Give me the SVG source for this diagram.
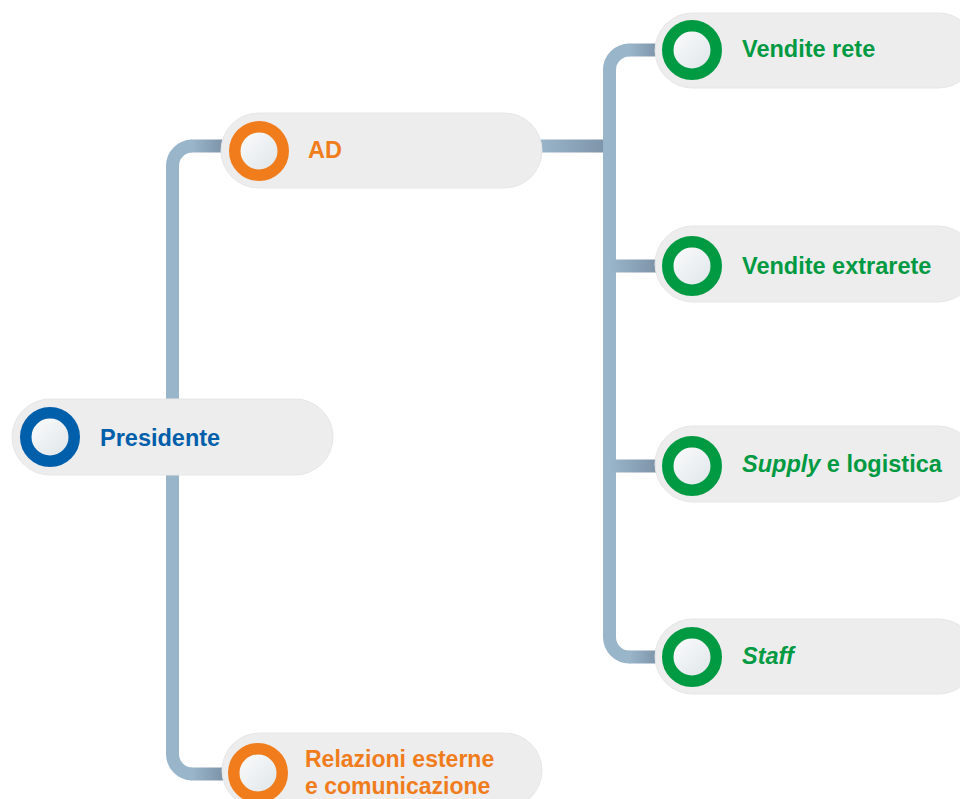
<svg xmlns="http://www.w3.org/2000/svg" width="960" height="799" viewBox="0 0 960 799">
  <defs>
    <linearGradient id="stub" x1="0" y1="0" x2="1" y2="0">
      <stop offset="0" stop-color="#9ab6cb"/>
      <stop offset="1" stop-color="#7b91a6"/>
    </linearGradient>
    <linearGradient id="core" x1="0" y1="0" x2="1" y2="1">
      <stop offset="0" stop-color="#ffffff"/>
      <stop offset="1" stop-color="#dbe2e6"/>
    </linearGradient>
    <style>
      .pill { fill: #ededed; stroke: #e6e6e6; stroke-width: 1; }
      .ring { fill: url(#core); stroke-width: 11.5; }
      .blue { stroke: #005fab; }
      .orange { stroke: #f07c1b; }
      .green { stroke: #009a42; }
      .lbl { font-family: "Liberation Sans", Arial, sans-serif; font-weight: bold; font-size: 23.5px; }
      .tblue { fill: #005fab; }
      .torange { fill: #f07c1b; }
      .tgreen { fill: #009a42; }
      .line { fill: none; stroke: #98b5ca; stroke-width: 13; }
    </style>
  </defs>
  <rect width="960" height="799" fill="#ffffff"/>

  <g id="connectors">
    <path class="line" d="M 192 146 A 20 20 0 0 0 172.5 166 V 754 A 20 20 0 0 0 192 774"/>
    <rect x="191" y="139.5" width="34" height="13" fill="url(#stub)"/>
    <rect x="191" y="767.5" width="34" height="13" fill="url(#stub)"/>
    <rect x="538" y="139.5" width="72" height="13" fill="url(#stub)"/>
    <path class="line" d="M 630 50 A 20 20 0 0 0 609.5 70 V 637 A 20 20 0 0 0 630 657"/>
    <rect x="629" y="43.5" width="30" height="13" fill="url(#stub)"/>
    <rect x="609" y="259.5" width="50" height="13" fill="url(#stub)"/>
    <rect x="609" y="459.5" width="50" height="13" fill="url(#stub)"/>
    <rect x="629" y="650.5" width="30" height="13" fill="url(#stub)"/>
  </g>

  <g id="presidente">
    <rect class="pill" x="12" y="399" width="321" height="76" rx="38"/>
    <circle class="ring blue" cx="50" cy="437" r="24.25"/>
    <text class="lbl tblue" x="100" y="446">Presidente</text>
  </g>

  <g id="ad">
    <rect class="pill" x="221" y="113" width="321" height="75" rx="37.5"/>
    <circle class="ring orange" cx="259" cy="151" r="24.25"/>
    <text class="lbl torange" x="308" y="158">AD</text>
  </g>

  <g id="relazioni">
    <rect class="pill" x="222" y="733" width="320" height="75" rx="37.5"/>
    <circle class="ring orange" cx="258" cy="773" r="24.25"/>
    <text class="lbl torange" x="305" y="767" style="font-size:23px">Relazioni esterne</text>
    <text class="lbl torange" x="305" y="794" style="font-size:23px">e comunicazione</text>
  </g>

  <g id="vendite-rete">
    <rect class="pill" x="655" y="13" width="321" height="75" rx="37.5"/>
    <circle class="ring green" cx="692" cy="50" r="24.25"/>
    <text class="lbl tgreen" x="742" y="57">Vendite rete</text>
  </g>

  <g id="vendite-extrarete">
    <rect class="pill" x="655" y="226" width="321" height="76" rx="38"/>
    <circle class="ring green" cx="692" cy="266" r="24.25"/>
    <text class="lbl tgreen" x="742" y="274">Vendite extrarete</text>
  </g>

  <g id="supply">
    <rect class="pill" x="655" y="426" width="321" height="76" rx="38"/>
    <circle class="ring green" cx="692" cy="466" r="24.25"/>
    <text class="lbl tgreen" x="742" y="472"><tspan font-style="italic">Supply</tspan> e logistica</text>
  </g>

  <g id="staff">
    <rect class="pill" x="655" y="619" width="321" height="75" rx="37.5"/>
    <circle class="ring green" cx="692" cy="657" r="24.25"/>
    <text class="lbl tgreen" x="742" y="664" font-style="italic">Staff</text>
  </g>
</svg>
